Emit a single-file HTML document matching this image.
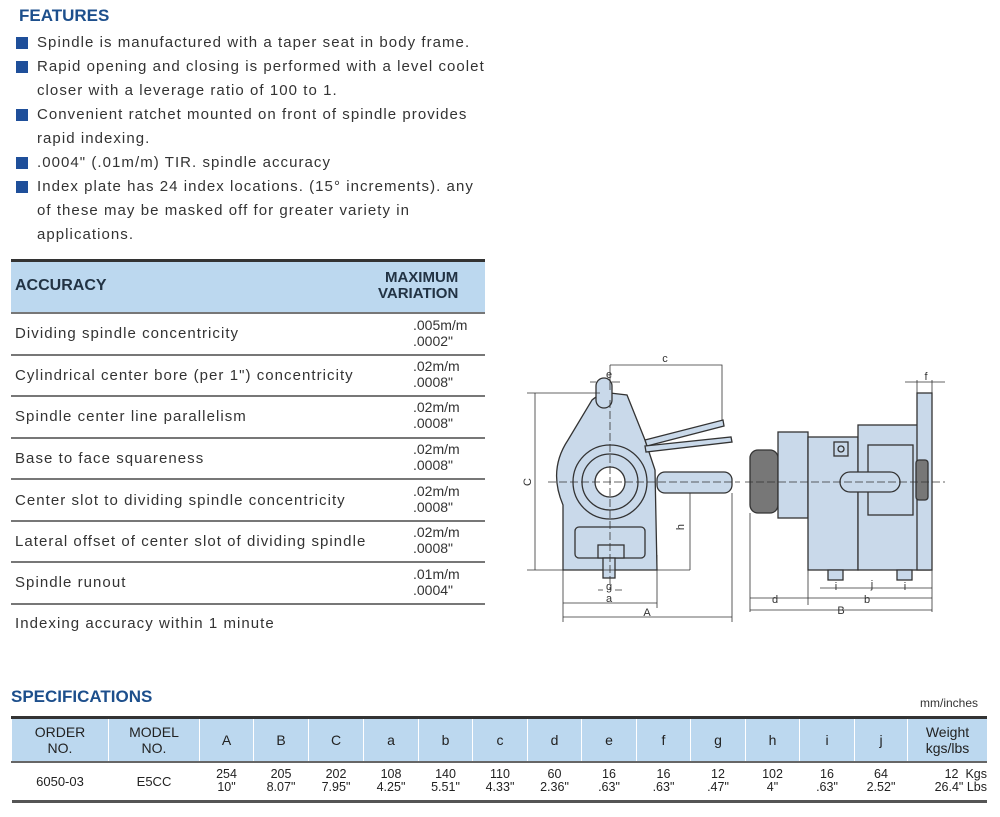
<!DOCTYPE html>
<html><head><meta charset="utf-8"><style>
*{margin:0;padding:0;box-sizing:border-box}
body{width:1000px;height:817px;background:#fff;font-family:"Liberation Sans",sans-serif;color:#333;position:relative;overflow:hidden}
.a{position:absolute;white-space:nowrap}
.t{color:#1d4f8c;font-weight:bold;font-size:17px}
.f{font-size:15px;letter-spacing:1.05px;left:37px}
.sq{position:absolute;left:16px;width:12px;height:12px;background:#1f4f9a}
.acc{position:absolute;left:11px;width:474px}
.r{font-size:15px;letter-spacing:1.05px;left:15px}
.v{font-size:14px;left:413px;line-height:16px}
.hl{position:absolute;left:11px;width:474px;height:2px;background:#777}
table{border-collapse:collapse;position:absolute;left:11px;top:716px;width:976px;font-size:13px;text-align:center}
th{background:#bcd8ef;font-weight:normal;height:44px;border-left:1px solid #fff;font-size:14px;color:#222;line-height:16px}
td{height:40px;line-height:13px;font-size:12.5px;color:#222}
</style></head><body>
<div class="a t" style="left:19px;top:6px">FEATURES</div>
<div class="sq" style="top:37px"></div><div class="a f" style="top:34px">Spindle is manufactured with a taper seat in body frame.</div>
<div class="sq" style="top:61px"></div><div class="a f" style="top:58px">Rapid opening and closing is performed with a level coolet</div>
<div class="a f" style="top:82px">closer with a leverage ratio of 100 to 1.</div>
<div class="sq" style="top:109px"></div><div class="a f" style="top:106px">Convenient ratchet mounted on front of spindle provides</div>
<div class="a f" style="top:130px">rapid indexing.</div>
<div class="sq" style="top:157px"></div><div class="a f" style="top:154px">.0004" (.01m/m) TIR. spindle accuracy</div>
<div class="sq" style="top:181px"></div><div class="a f" style="top:178px">Index plate has 24 index locations. (15° increments). any</div>
<div class="a f" style="top:202px">of these may be masked off for greater variety in</div>
<div class="a f" style="top:226px">applications.</div>

<div class="acc" style="top:259px;height:3px;background:#333"></div>
<div class="acc" style="top:262px;height:50px;background:#bcd8ef"></div>
<div class="a" style="left:15px;top:277px;font-size:16px;font-weight:bold;color:#234">ACCURACY</div>
<div class="a" style="left:378px;top:270px;font-size:15px;font-weight:bold;color:#234;line-height:16px;text-align:right">&nbsp;MAXIMUM<br>VARIATION</div>
<div class="hl" style="top:312px"></div>
<div class="a r" style="top:325px">Dividing spindle concentricity</div><div class="a v" style="top:317px">.005m/m<br>.0002"</div>
<div class="hl" style="top:354px"></div>
<div class="a r" style="top:367px">Cylindrical center bore (per 1") concentricity</div><div class="a v" style="top:358px">.02m/m<br>.0008"</div>
<div class="hl" style="top:395px"></div>
<div class="a r" style="top:408px">Spindle center line parallelism</div><div class="a v" style="top:399px">.02m/m<br>.0008"</div>
<div class="hl" style="top:437px"></div>
<div class="a r" style="top:450px">Base to face squareness</div><div class="a v" style="top:441px">.02m/m<br>.0008"</div>
<div class="hl" style="top:478px"></div>
<div class="a r" style="top:492px">Center slot to dividing spindle concentricity</div><div class="a v" style="top:483px">.02m/m<br>.0008"</div>
<div class="hl" style="top:520px"></div>
<div class="a r" style="top:533px">Lateral offset of center slot of dividing spindle</div><div class="a v" style="top:524px">.02m/m<br>.0008"</div>
<div class="hl" style="top:561px"></div>
<div class="a r" style="top:574px">Spindle runout</div><div class="a v" style="top:566px">.01m/m<br>.0004"</div>
<div class="hl" style="top:603px"></div>
<div class="a r" style="top:615px">Indexing accuracy within 1 minute</div>

<svg class="a" style="left:0;top:0" width="1000" height="817" viewBox="0 0 1000 817">
<g fill="#c9d9ea" stroke="#333" stroke-width="1.3">
<path d="M563,570 L563,505 Q548,470 568,440 L592,400 Q600,393 610,393 L627,395 L645,440 L655,470 L657,570 Z"/>
<circle cx="610" cy="482" r="37"/><circle cx="610" cy="482" r="28"/><circle cx="610" cy="482" r="15" fill="#fff"/>
<rect x="657" y="472" width="75" height="21" rx="8"/>
<path d="M645,440 L723,420 L724,426 L647,446 Z"/><path d="M645,446 L731,437 L732,442 L646,452 Z"/>
<rect x="596" y="378" width="16" height="30" rx="8"/>
<rect x="575" y="527" width="70" height="31" rx="4"/>
<rect x="598" y="545" width="26" height="13"/><rect x="603" y="558" width="12" height="20"/>
<rect x="750" y="450" width="28" height="63" rx="8" fill="#777"/>
<rect x="778" y="432" width="30" height="86"/>
<rect x="808" y="437" width="50" height="133"/>
<rect x="858" y="425" width="72" height="145"/>
<rect x="917" y="393" width="15" height="177"/>
<rect x="868" y="445" width="45" height="70"/>
<rect x="834" y="442" width="14" height="14"/><circle cx="841" cy="449" r="3"/>
<rect x="840" y="472" width="60" height="20" rx="10"/>
<rect x="916" y="460" width="12" height="40" rx="3" fill="#777"/>
<rect x="828" y="570" width="15" height="10"/><rect x="897" y="570" width="15" height="10"/>
</g>
<g stroke="#333" stroke-width="0.8" fill="none">
<path d="M535,393 V570 M527,393 H600 M527,570 H690 M610,365 H722 V420 M610,365 V390 M690,493 V570 M680,493 H720"/>
<path d="M563,570 V622 M657,555 V608 M732,493 V622 M563,603 H657 M563,617 H732 M590,382 H596 M612,382 H620 M598,590 H603 M615,590 H622"/>
<path d="M750,513 V612 M808,570 V605 M932,570 V612 M750,598 H808 M808,598 H932 M750,610 H932 M917,380 V393 M932,380 V393 M905,382 H945 M820,588 H932"/>
<path stroke-dasharray="8,3" d="M548,482 H740 M745,482 H945 M610,400 V590"/>
</g>
<g font-family="Liberation Sans" font-size="11" fill="#333" text-anchor="middle">
<text x="665" y="362">c</text><text x="609" y="378">e</text><text x="531" y="482" transform="rotate(-90 531 482)">C</text>
<text x="684" y="527" transform="rotate(-90 684 527)">h</text><text x="609" y="590">g</text><text x="609" y="602">a</text><text x="647" y="616">A</text>
<text x="926" y="380">f</text><text x="775" y="603">d</text><text x="867" y="603">b</text><text x="841" y="614">B</text>
<text x="836" y="590">i</text><text x="872" y="588">j</text><text x="905" y="590">i</text>
</g>
</svg>

<div class="a t" style="left:11px;top:687px;font-size:17px">SPECIFICATIONS</div>
<div class="a" style="left:920px;top:696px;font-size:12px">mm/inches</div>
<table>
<tr style="border-top:3px solid #333;border-bottom:2px solid #666">
<th style="width:97px">ORDER<br>NO.</th><th style="width:91px">MODEL<br>NO.</th><th style="width:54px">A</th><th style="width:55px">B</th><th style="width:55px">C</th><th style="width:55px">a</th><th style="width:54px">b</th><th style="width:55px">c</th><th style="width:54px">d</th><th style="width:55px">e</th><th style="width:54px">f</th><th style="width:55px">g</th><th style="width:54px">h</th><th style="width:55px">i</th><th style="width:53px">j</th><th>Weight<br>kgs/lbs</th></tr>
<tr style="border-bottom:3px solid #555">
<td style="font-size:13px">6050-03</td><td style="font-size:13px">E5CC</td><td>254<br>10"</td><td>205<br>8.07"</td><td>202<br>7.95"</td><td>108<br>4.25"</td><td>140<br>5.51"</td><td>110<br>4.33"</td><td>60<br>2.36"</td><td>16<br>.63"</td><td>16<br>.63"</td><td>12<br>.47"</td><td>102<br>4"</td><td>16<br>.63"</td><td>64<br>2.52"</td><td style="text-align:right">12&nbsp; Kgs<br>26.4" Lbs</td></tr>
</table>
</body></html>
